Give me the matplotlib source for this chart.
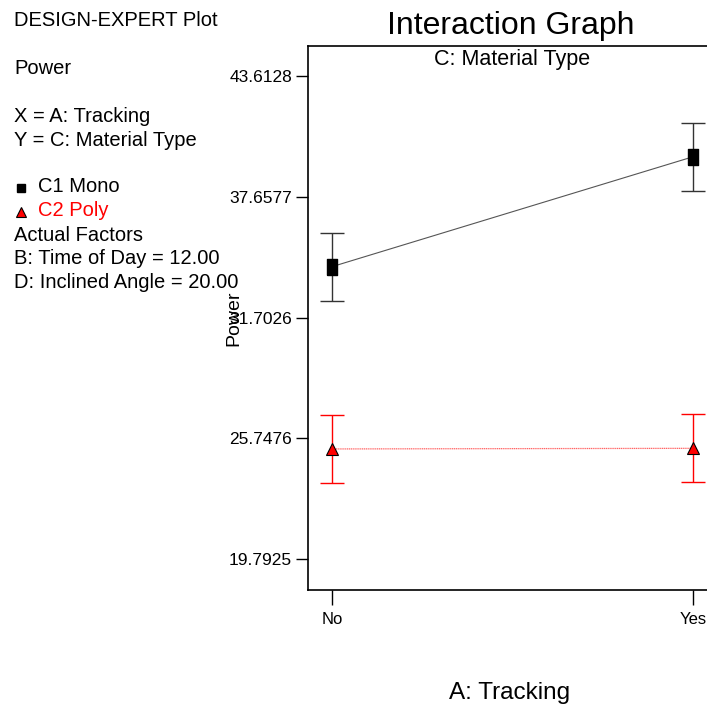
import matplotlib
matplotlib.use("Agg")
import matplotlib.pyplot as plt
import numpy as np

plt.rcParams['font.family'] = ['Liberation Sans', 'DejaVu Sans']

# Data
tracking = ["No", "Yes"]
mono_mean = [34.21, 39.63]
mono_err = [1.68, 1.68]
poly_mean = [25.22, 25.25]
poly_err = [1.68, 1.68]
yticks = [19.7925, 25.7476, 31.7026, 37.6577, 43.6128]
ytick_labels = ["19.7925", "25.7476", "31.7026", "37.6577", "43.6128"]

W, H = 707, 706
fig = plt.figure(figsize=(W / 100, H / 100), dpi=100)

# axes in pixel coords: left 308, top 45.7, bottom 590, right ~717 (beyond canvas)
left_px, right_px, top_px, bot_px = 308, 717, 45.7, 590
ax = fig.add_axes([left_px / W, 1 - bot_px / H, (right_px - left_px) / W, (bot_px - top_px) / H])

x = np.arange(len(tracking))
sq = [(-0.33, -0.5), (0.33, -0.5), (0.33, 0.5), (-0.33, 0.5), (-0.33, -0.5)]

ax.plot(x, mono_mean, color='#555555', lw=0.8, zorder=2)
ax.errorbar(x, mono_mean, yerr=mono_err, fmt='none', ecolor='#333333', elinewidth=1.0,
            capsize=8.5, capthick=1.0, zorder=2)
ax.plot(x, mono_mean, linestyle='none', marker=sq, markersize=11, color='black', zorder=3)

ax.plot(x, poly_mean, color='#ff6666', lw=0.9, linestyle=(0, (1, 0.5)), zorder=2)
ax.errorbar(x, poly_mean, yerr=poly_err, fmt='none', ecolor='red', elinewidth=1.0,
            capsize=8.5, capthick=1.0, zorder=2)
ax.plot(x, poly_mean, linestyle='none', marker='^', markersize=9, markerfacecolor='red',
        markeredgecolor='black', markeredgewidth=0.8, zorder=3)

# limits
ax.set_ylim(18.263, 45.108)
sx = 361.0
ax.set_xlim(-(332 - left_px) / sx, 1 + (right_px - 693) / sx)

ax.set_yticks(yticks)
ax.set_yticklabels(ytick_labels, fontsize=12.5)
ax.set_xticks(x)
ax.set_xticklabels(tracking, fontsize=12)
ax.tick_params(axis='y', direction='out', length=8.5, width=1, pad=3, colors='black')
ax.tick_params(axis='x', direction='out', length=10.5, width=1, pad=5)
for s in ['left', 'bottom', 'top']:
    ax.spines[s].set_linewidth(1.2)
ax.spines['right'].set_visible(False)

ax.set_ylabel("Power", fontsize=14)
ax.yaxis.set_label_coords((242 - left_px) / (right_px - left_px), 0.5)

ax.text(0.5, 1 - (60 - top_px) / (bot_px - top_px), "C: Material Type", transform=ax.transAxes,
        ha='center', va='center', fontsize=15.5)

fig.text(511 / W, 1 - 26 / H, "Interaction Graph", ha='center', va='center', fontsize=23)
fig.text(510 / W, 1 - 693 / H, "A: Tracking", ha='center', va='center', fontsize=17.5)

# Left info text
def ftxt(xp, yp, s, **kw):
    fig.text(xp / W, 1 - yp / H, s, ha='left', va='center', fontsize=14.5, **kw)

ftxt(14, 21, "DESIGN-EXPERT Plot")
ftxt(14, 69, "Power")
ftxt(14, 117, "X = A: Tracking")
ftxt(14, 140, "Y = C: Material Type")
ftxt(38, 187, "C1 Mono")
ftxt(38, 211, "C2 Poly", color='red')
ftxt(14, 235, "Actual Factors")
ftxt(14, 259, "B: Time of Day = 12.00")
ftxt(14, 283, "D: Inclined Angle = 20.00")

# legend markers in figure coordinates
fig.lines.append(plt.Line2D([21 / W], [1 - 188 / H], transform=fig.transFigure, marker='s',
                            markersize=5.5, color='black', linestyle='none'))
fig.lines.append(plt.Line2D([21 / W], [1 - 212 / H], transform=fig.transFigure, marker='^',
                            markersize=6.5, markerfacecolor='red', markeredgecolor='black',
                            markeredgewidth=0.8, linestyle='none'))

fig.savefig("out.png", dpi=100)
